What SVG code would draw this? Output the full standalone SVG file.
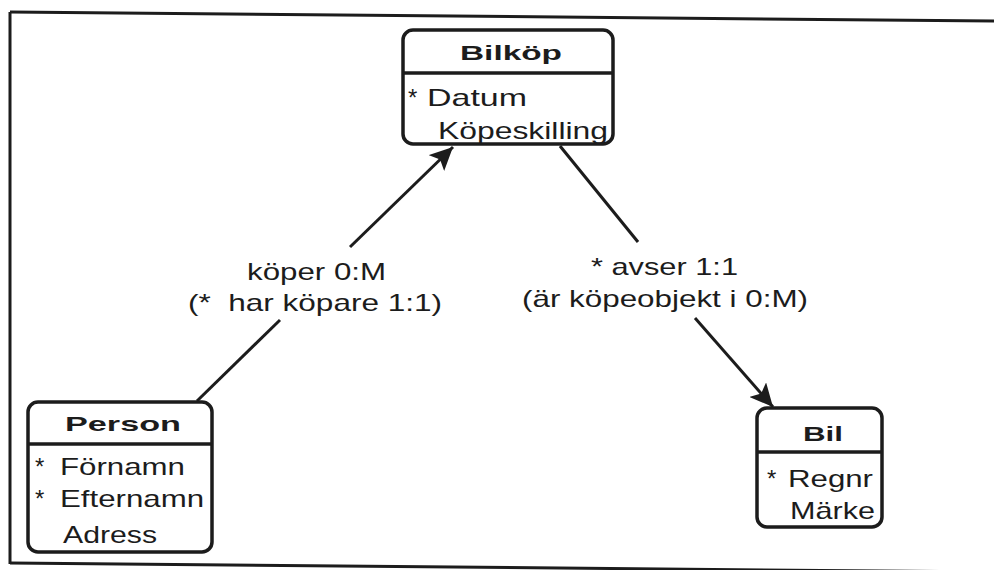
<svg xmlns="http://www.w3.org/2000/svg" width="994" height="570" viewBox="0 0 994 570">
<style>
.frame{fill:none;stroke:#1c1c1c;stroke-width:3}
.box{fill:#fff;stroke:#1c1c1c;stroke-width:3.5}
.sep{stroke:#1c1c1c;stroke-width:3.5}
.title{font-family:"Liberation Sans",Arial,sans-serif;font-weight:bold;font-size:21px;fill:#1c1c1c}
.attr{font-family:"Liberation Sans",Arial,sans-serif;font-size:24px;fill:#1c1c1c}
.lbl{font-family:"Liberation Sans",Arial,sans-serif;font-size:24px;fill:#1c1c1c}
.conn{stroke:#1c1c1c;stroke-width:3;fill:none}
</style>
<defs>
<marker id="arrow" markerUnits="userSpaceOnUse" markerWidth="26" markerHeight="22" refX="23" refY="11" orient="auto">
<path d="M0,0 L23,11 L0,22 L5,11 Z" fill="#1c1c1c"/>
</marker>
</defs>
<rect width="994" height="570" fill="#fff"/>
<g id="frame">
<path class="frame" d="M10,12 L994,21"/>
<path class="frame" d="M10,12 L10,564"/>
<path class="frame" d="M10,563 L994,572"/>
</g>
<g id="connectors">
<line class="conn" x1="197" y1="401" x2="280" y2="320"/>
<line class="conn" x1="350" y1="247" x2="453" y2="147" marker-end="url(#arrow)"/>
<line class="conn" x1="560" y1="146" x2="638" y2="242"/>
<line class="conn" x1="695" y1="318" x2="773" y2="407" marker-end="url(#arrow)"/>
<text class="lbl" x="247" y="280" textLength="139" lengthAdjust="spacingAndGlyphs">köper 0:M</text>
<text class="lbl" x="188" y="311" textLength="254" lengthAdjust="spacingAndGlyphs" xml:space="preserve">(*  har köpare 1:1)</text>
<text class="lbl" x="591" y="275" textLength="147" lengthAdjust="spacingAndGlyphs">* avser 1:1</text>
<text class="lbl" x="522" y="307" textLength="286" lengthAdjust="spacingAndGlyphs">(är köpeobjekt i 0:M)</text>
</g>
<g id="bilkop">
<rect class="box" x="403" y="30" width="210" height="114" rx="10"/>
<line class="sep" x1="403" y1="73" x2="613" y2="73"/>
<text class="title" x="460" y="60" textLength="102" lengthAdjust="spacingAndGlyphs">Bilköp</text>
<text class="attr" x="408" y="106">*</text>
<text class="attr" x="427" y="106" textLength="100" lengthAdjust="spacingAndGlyphs">Datum</text>
<text class="attr" x="438" y="139" textLength="170" lengthAdjust="spacingAndGlyphs">Köpeskilling</text>
</g>
<g id="person">
<rect class="box" x="28" y="402" width="184" height="150" rx="10"/>
<line class="sep" x1="28" y1="444" x2="212" y2="444"/>
<text class="title" x="65" y="431" textLength="116" lengthAdjust="spacingAndGlyphs">Person</text>
<text class="attr" x="35" y="475">*</text>
<text class="attr" x="60" y="475" textLength="125" lengthAdjust="spacingAndGlyphs">Förnamn</text>
<text class="attr" x="35" y="507">*</text>
<text class="attr" x="60" y="507" textLength="144" lengthAdjust="spacingAndGlyphs">Efternamn</text>
<text class="attr" x="63" y="543" textLength="94" lengthAdjust="spacingAndGlyphs">Adress</text>
</g>
<g id="bil">
<rect class="box" x="757" y="408" width="125" height="119" rx="10"/>
<line class="sep" x1="757" y1="452" x2="882" y2="452"/>
<text class="title" x="803" y="441" textLength="40" lengthAdjust="spacingAndGlyphs">Bil</text>
<text class="attr" x="767" y="487">*</text>
<text class="attr" x="788" y="487" textLength="85" lengthAdjust="spacingAndGlyphs">Regnr</text>
<text class="attr" x="790" y="519" textLength="85" lengthAdjust="spacingAndGlyphs">Märke</text>
</g>
</svg>
